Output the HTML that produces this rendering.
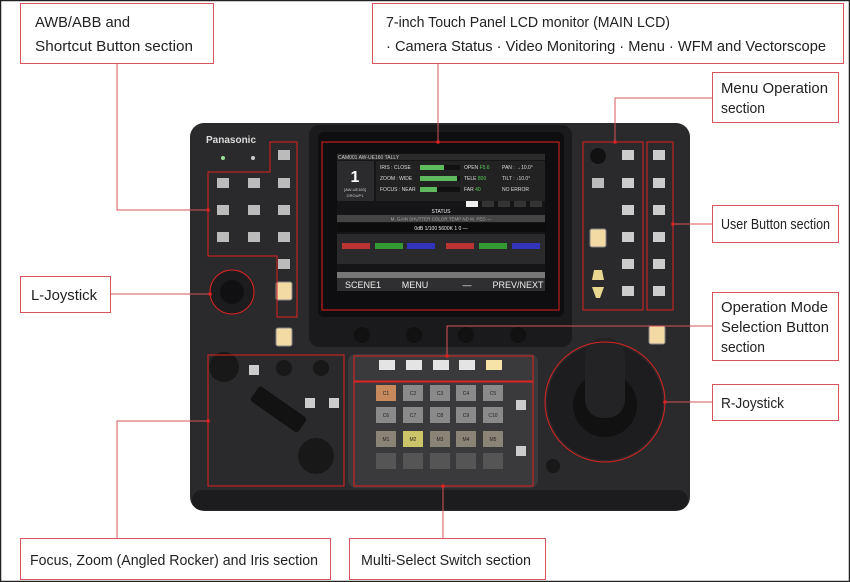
<!DOCTYPE html>
<html><head><meta charset="utf-8"><style>
html,body{margin:0;padding:0;background:#fff;}
body{width:850px;height:582px;overflow:hidden;font-family:"Liberation Sans",sans-serif;}
svg{display:block}
</style></head><body>
<svg width="850" height="582" viewBox="0 0 850 582" xmlns="http://www.w3.org/2000/svg" font-family="Liberation Sans, sans-serif">
<rect x="0.5" y="0.5" width="849" height="581" fill="#fff" stroke="#222" stroke-width="1.5"/>
<rect x="190" y="123" width="500" height="388" rx="14" fill="#2a2a2c"/>
<rect x="192" y="490" width="496" height="20" rx="10" fill="#1c1c1e"/>
<rect x="309" y="125" width="263" height="222" rx="10" fill="#1a1a1c"/>
<rect x="318" y="132" width="246" height="185" rx="6" fill="#0e0e10"/>
<rect x="337" y="153" width="208" height="138" fill="#151517"/>
<rect x="337" y="154" width="208" height="6" fill="#2a2a2a"/>
<text x="338" y="159" font-size="5" fill="#ccc">CAM001   AW-UE160   TALLY</text>
<rect x="337" y="161" width="37" height="40" fill="#2b2b2d"/>
<text x="355" y="182" font-size="16" fill="#fff" text-anchor="middle" font-weight="bold">1</text>
<text x="355" y="191" font-size="4" fill="#ccc" text-anchor="middle">[AW-UE160]</text>
<text x="355" y="197" font-size="4" fill="#ccc" text-anchor="middle">GROUP1</text>
<rect x="376" y="161" width="169" height="40" fill="#222"/>
<text x="380" y="169" font-size="5" fill="#ddd">IRIS  : CLOSE</text>
<text x="380" y="180" font-size="5" fill="#ddd">ZOOM  :  WIDE</text>
<text x="380" y="191" font-size="5" fill="#ddd">FOCUS :  NEAR</text>
<rect x="420" y="165" width="40" height="5" fill="#111"/><rect x="420" y="165" width="24" height="5" fill="#5dbb5d"/>
<rect x="420" y="176" width="40" height="5" fill="#111"/><rect x="420" y="176" width="37" height="5" fill="#5dbb5d"/>
<rect x="420" y="187" width="40" height="5" fill="#111"/><rect x="420" y="187" width="17" height="5" fill="#5dbb5d"/>
<text x="464" y="169" font-size="5" fill="#ddd">OPEN <tspan fill="#5c5">F5.6</tspan></text>
<text x="464" y="180" font-size="5" fill="#ddd">TELE <tspan fill="#5c5">800</tspan></text>
<text x="464" y="191" font-size="5" fill="#ddd">FAR  <tspan fill="#5c5">40</tspan></text>
<text x="502" y="169" font-size="5" fill="#ddd">PAN : →10.0°</text>
<text x="502" y="180" font-size="5" fill="#ddd">TILT : ↓10.0°</text>
<text x="502" y="191" font-size="5" fill="#ddd">NO ERROR</text>
<rect x="466" y="201" width="12" height="6" fill="#eee"/>
<rect x="482" y="201" width="12" height="6" fill="#333"/><rect x="498" y="201" width="12" height="6" fill="#333"/><rect x="514" y="201" width="12" height="6" fill="#333"/><rect x="530" y="201" width="12" height="6" fill="#333"/>
<text x="441" y="213" font-size="5" fill="#eee" text-anchor="middle">STATUS</text>
<rect x="337" y="215" width="208" height="7" fill="#444"/>
<text x="441" y="220.5" font-size="4.5" fill="#aaa" text-anchor="middle">M. GAIN     SHUTTER    COLOR TEMP     ND      M. PED     —</text>
<rect x="337" y="223" width="208" height="9" fill="#0c0c0c"/>
<text x="441" y="230" font-size="5" fill="#eee" text-anchor="middle">0dB       1/100       5600K        1         0          —</text>
<rect x="337" y="234" width="208" height="30" fill="#2a2a2c"/>
<rect x="342" y="243" width="28" height="6" fill="#b33"/><rect x="375" y="243" width="28" height="6" fill="#393"/><rect x="407" y="243" width="28" height="6" fill="#33b"/>
<rect x="446" y="243" width="28" height="6" fill="#b33"/><rect x="479" y="243" width="28" height="6" fill="#393"/><rect x="512" y="243" width="28" height="6" fill="#33b"/>
<rect x="337" y="272" width="208" height="6" fill="#777"/>
<rect x="337" y="278" width="208" height="13" fill="#2f2f31"/>
<text x="363" y="288" font-size="9" fill="#eee" text-anchor="middle">SCENE1</text>
<text x="415" y="288" font-size="9" fill="#eee" text-anchor="middle">MENU</text>
<text x="467" y="288" font-size="9" fill="#eee" text-anchor="middle">—</text>
<text x="518" y="288" font-size="9" fill="#eee" text-anchor="middle">PREV/NEXT</text>
<circle cx="362" cy="335" r="8" fill="#111"/><circle cx="414" cy="335" r="8" fill="#111"/><circle cx="466" cy="335" r="8" fill="#111"/><circle cx="518" cy="335" r="8" fill="#111"/>
<text x="206" y="143" font-size="10" font-weight="bold" fill="#ddd">Panasonic</text>
<circle cx="223" cy="158" r="2" fill="#9d9"/><circle cx="253" cy="158" r="2" fill="#ccc"/>
<g fill="#bbb">
<rect x="278" y="150" width="12" height="10"/>
<rect x="217" y="178" width="12" height="10"/><rect x="248" y="178" width="12" height="10"/><rect x="278" y="178" width="12" height="10"/>
<rect x="217" y="205" width="12" height="10"/><rect x="248" y="205" width="12" height="10"/><rect x="278" y="205" width="12" height="10"/>
<rect x="217" y="232" width="12" height="10"/><rect x="248" y="232" width="12" height="10"/><rect x="278" y="232" width="12" height="10"/>
<rect x="278" y="259" width="12" height="10"/>
</g>
<rect x="276" y="282" width="16" height="18" rx="2" fill="#f3d9a3" stroke="#888"/>
<rect x="276" y="328" width="16" height="18" rx="2" fill="#f3d9a3" stroke="#888"/>
<circle cx="232" cy="292" r="22" fill="#1c1c1e"/><circle cx="232" cy="292" r="12" fill="#101012"/>
<circle cx="598" cy="156" r="8" fill="#111"/>
<rect x="592" y="178" width="12" height="10" fill="#bbb"/>
<rect x="590" y="229" width="16" height="18" rx="2" fill="#f3d9a3" stroke="#888"/>
<polygon points="594,270 602,270 604,280 592,280" fill="#e8d790"/>
<polygon points="592,287 604,287 600,298 596,298" fill="#e8d790"/>
<g fill="#ccc">
<rect x="622" y="150" width="12" height="10"/><rect x="622" y="178" width="12" height="10"/><rect x="622" y="205" width="12" height="10"/><rect x="622" y="232" width="12" height="10"/><rect x="622" y="259" width="12" height="10"/><rect x="622" y="286" width="12" height="10"/>
<rect x="653" y="150" width="12" height="10"/><rect x="653" y="178" width="12" height="10"/><rect x="653" y="205" width="12" height="10"/><rect x="653" y="232" width="12" height="10"/><rect x="653" y="259" width="12" height="10"/><rect x="653" y="286" width="12" height="10"/>
</g>
<rect x="649" y="326" width="16" height="18" rx="2" fill="#f3d9a3" stroke="#888"/>
<circle cx="224" cy="367" r="15" fill="#181818"/>
<rect x="249" y="365" width="10" height="10" fill="#ccc"/>
<circle cx="284" cy="368" r="8" fill="#181818"/><circle cx="321" cy="368" r="8" fill="#181818"/>
<rect x="305" y="398" width="10" height="10" fill="#ccc"/><rect x="329" y="398" width="10" height="10" fill="#ccc"/>
<rect x="242" y="398" width="58" height="18" rx="3" fill="#121212" transform="rotate(35 271 420)"/>
<circle cx="316" cy="456" r="18" fill="#181818"/>
<rect x="348" y="354" width="190" height="134" rx="8" fill="#3a3a3c"/>
<g fill="#e4e4e4"><rect x="379" y="360" width="16" height="10"/><rect x="406" y="360" width="16" height="10"/><rect x="433" y="360" width="16" height="10"/><rect x="459" y="360" width="16" height="10"/></g>
<rect x="486" y="360" width="16" height="10" fill="#f6e3a8"/>
<g fill="#8a8a8a">
<rect x="376" y="385" width="20" height="16"/><rect x="403" y="385" width="20" height="16"/><rect x="430" y="385" width="20" height="16"/><rect x="456" y="385" width="20" height="16"/><rect x="483" y="385" width="20" height="16"/>
<rect x="376" y="407" width="20" height="16"/><rect x="403" y="407" width="20" height="16"/><rect x="430" y="407" width="20" height="16"/><rect x="456" y="407" width="20" height="16"/><rect x="483" y="407" width="20" height="16"/>
</g>
<rect x="376" y="385" width="20" height="16" fill="#c88a5c"/>
<g fill="#8a8476">
<rect x="376" y="431" width="20" height="16"/><rect x="430" y="431" width="20" height="16"/><rect x="456" y="431" width="20" height="16"/><rect x="483" y="431" width="20" height="16"/>
</g>
<rect x="403" y="431" width="20" height="16" fill="#cbc468"/>
<g fill="#555"><rect x="376" y="453" width="20" height="16"/><rect x="403" y="453" width="20" height="16"/><rect x="430" y="453" width="20" height="16"/><rect x="456" y="453" width="20" height="16"/><rect x="483" y="453" width="20" height="16"/></g>
<g font-size="5" fill="#222" text-anchor="middle">
<text x="386" y="395">C1</text><text x="413" y="395">C2</text><text x="440" y="395">C3</text><text x="466" y="395">C4</text><text x="493" y="395">C5</text>
<text x="386" y="417">C6</text><text x="413" y="417">C7</text><text x="440" y="417">C8</text><text x="466" y="417">C9</text><text x="493" y="417">C10</text>
<text x="386" y="441">M1</text><text x="413" y="441">M2</text><text x="440" y="441">M3</text><text x="466" y="441">M4</text><text x="493" y="441">M5</text>
</g>
<rect x="516" y="400" width="10" height="10" fill="#ccc"/><rect x="516" y="446" width="10" height="10" fill="#ccc"/>
<circle cx="553" cy="466" r="7" fill="#181818"/>
<circle cx="605" cy="402" r="58" fill="#1d1d1f"/>
<circle cx="605" cy="405" r="32" fill="#111"/>
<rect x="585" y="338" width="40" height="80" rx="18" fill="#232325"/>
<g fill="none" stroke="#d22" stroke-width="1">
<path d="M208,172 H270 V142 H297 V317 H277 V256 H208 Z"/>
<rect x="322" y="142" width="237" height="168"/>
<rect x="583" y="142" width="60" height="168"/>
<rect x="647" y="142" width="26" height="168"/>
<rect x="208" y="355" width="136" height="131"/>
<rect x="354" y="356" width="179" height="25"/>
<rect x="354" y="382" width="179" height="104"/>
<circle cx="605" cy="402" r="60"/>
<circle cx="232" cy="292" r="22"/>
</g>
<g stroke="#d9545a" stroke-width="1" fill="none">
<path d="M117,63 V210 H208"/>
<path d="M438,63 V142"/>
<path d="M712,98 H615 V142"/>
<path d="M673,224 H712"/>
<path d="M110,294 H210"/>
<path d="M712,326 H447 V356"/>
<path d="M665,402 H712"/>
<path d="M117,538 V421 H208"/>
<path d="M443,486 V538"/>
</g>
<g fill="#d22"><circle cx="208" cy="210" r="1.8"/><circle cx="438" cy="142" r="1.8"/><circle cx="615" cy="142" r="1.8"/><circle cx="673" cy="224" r="1.8"/><circle cx="210" cy="294" r="1.8"/><circle cx="447" cy="356" r="1.8"/><circle cx="665" cy="402" r="1.8"/><circle cx="208" cy="421" r="1.8"/><circle cx="443" cy="486" r="1.8"/></g>
<g fill="#fff" stroke="#d9545a" stroke-width="1">
<rect x="20.5" y="3.5" width="193" height="60"/>
<rect x="372.5" y="3.5" width="471" height="60"/>
<rect x="712.5" y="72.5" width="126" height="50"/>
<rect x="712.5" y="205.5" width="126" height="37"/>
<rect x="20.5" y="276.5" width="90" height="36"/>
<rect x="712.5" y="292.5" width="126" height="68"/>
<rect x="712.5" y="384.5" width="126" height="36"/>
<rect x="20.5" y="538.5" width="310" height="41"/>
<rect x="349.5" y="538.5" width="196" height="41"/>
</g>
<g font-size="15" fill="#222" lengthAdjust="spacingAndGlyphs">
<text x="35" y="27" textLength="95" lengthAdjust="spacingAndGlyphs">AWB/ABB and</text>
<text x="35" y="51" textLength="158" lengthAdjust="spacingAndGlyphs">Shortcut Button section</text>
<text x="386" y="27" textLength="284" lengthAdjust="spacingAndGlyphs">7-inch Touch Panel LCD monitor (MAIN LCD)</text>
<text x="386" y="51" textLength="440" lengthAdjust="spacingAndGlyphs">· Camera Status · Video Monitoring  · Menu  · WFM and Vectorscope</text>
<text x="721" y="93" textLength="107" lengthAdjust="spacingAndGlyphs">Menu Operation</text>
<text x="721" y="113" textLength="44" lengthAdjust="spacingAndGlyphs">section</text>
<text x="721" y="229" textLength="109" lengthAdjust="spacingAndGlyphs">User Button section</text>
<text x="31" y="300" textLength="66" lengthAdjust="spacingAndGlyphs">L-Joystick</text>
<text x="721" y="312" textLength="107" lengthAdjust="spacingAndGlyphs">Operation Mode</text>
<text x="721" y="332" textLength="108" lengthAdjust="spacingAndGlyphs">Selection Button</text>
<text x="721" y="352" textLength="44" lengthAdjust="spacingAndGlyphs">section</text>
<text x="721" y="408" textLength="63" lengthAdjust="spacingAndGlyphs">R-Joystick</text>
<text x="30" y="565" textLength="288" lengthAdjust="spacingAndGlyphs">Focus, Zoom (Angled Rocker) and Iris section</text>
<text x="361" y="565" textLength="170" lengthAdjust="spacingAndGlyphs">Multi-Select Switch section</text>
</g>
</svg>
</body></html>
